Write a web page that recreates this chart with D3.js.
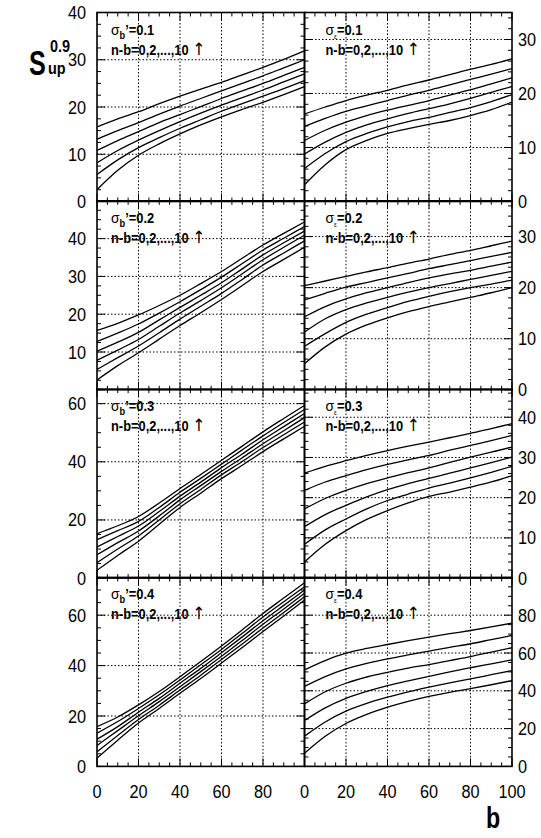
<!DOCTYPE html>
<html>
<head>
<meta charset="utf-8">
<script src="https://cdnjs.cloudflare.com/ajax/libs/d3/7.8.5/d3.min.js"></script>
<style>
    body { margin: 0; background: #fff; }
    svg { display: block; }
    text { font-family: "Liberation Sans", Arial, Helvetica, sans-serif; fill: #000; }
</style>
</head>
<body>
<div id="chart"></div>
<script>
'use strict';
// b values at which the curves were read
var bValues = [0, 10, 20, 30, 40, 50, 60, 70, 80, 90, 100];
var xTickLabels = [0, 20, 40, 60, 80, 100];

// left column, sigma_b' = 0.1 .. 0.4 ; curves n-b = 10,8,6,4,2,0 (top to bottom)
var sb01 = [
    [15.8, 17.5, 19.0, 20.7, 22.3, 23.8, 25.2, 26.8, 28.4, 30.1, 31.9],
    [13.2, 15.0, 16.7, 18.5, 20.2, 21.8, 23.4, 25.0, 26.6, 28.3, 30.0],
    [10.8, 12.9, 14.8, 16.7, 18.4, 20.1, 21.8, 23.4, 25.0, 26.7, 28.4],
    [8.2, 10.8, 13.0, 15.0, 16.9, 18.7, 20.4, 22.0, 23.6, 25.3, 27.0],
    [5.7, 8.8, 11.4, 13.5, 15.5, 17.3, 19.1, 20.7, 22.3, 23.9, 25.6],
    [2.5, 6.6, 9.8, 12.2, 14.3, 16.2, 17.9, 19.5, 21.0, 22.6, 24.3]
];
var sb02 = [
    [15.7, 17.6, 19.8, 22.3, 25.0, 28.1, 31.3, 34.8, 38.3, 41.4, 44.4],
    [12.8, 15.0, 17.4, 20.3, 23.3, 26.5, 29.8, 33.4, 37.0, 40.1, 43.2],
    [10.2, 12.6, 15.2, 18.5, 21.8, 25.0, 28.3, 32.0, 35.7, 38.9, 42.0],
    [7.8, 10.5, 13.3, 16.8, 20.3, 23.6, 27.0, 30.7, 34.4, 37.7, 40.9],
    [5.4, 8.5, 11.6, 15.1, 18.7, 22.1, 25.5, 29.2, 33.0, 36.2, 39.4],
    [2.6, 6.4, 9.8, 13.4, 17.0, 20.4, 23.9, 27.6, 31.3, 34.5, 37.7]
];
var sb03 = [
    [15.3, 18.0, 21.2, 25.8, 30.8, 35.6, 40.5, 45.4, 50.3, 54.9, 59.4],
    [13.2, 16.3, 19.5, 24.3, 29.5, 34.3, 39.2, 44.1, 48.9, 53.5, 58.0],
    [10.7, 14.3, 17.9, 22.9, 28.2, 33.0, 38.0, 42.7, 47.6, 52.1, 56.6],
    [8.0, 12.2, 16.2, 21.4, 26.9, 31.8, 36.7, 41.4, 46.2, 50.7, 55.2],
    [5.3, 10.0, 14.5, 20.0, 25.6, 30.5, 35.5, 40.1, 44.9, 49.3, 53.7],
    [2.7, 7.8, 12.7, 18.5, 24.3, 29.2, 34.2, 38.8, 43.5, 47.9, 52.2]
];
var sb04 = [
    [15.8, 19.6, 24.4, 29.7, 35.6, 41.6, 47.8, 54.2, 60.7, 66.8, 72.9],
    [13.2, 17.8, 23.0, 28.4, 34.3, 40.3, 46.4, 52.8, 59.3, 65.3, 71.3],
    [10.8, 15.8, 21.5, 27.0, 33.0, 38.9, 45.1, 51.4, 57.8, 63.9, 70.0],
    [8.3, 14.2, 20.1, 25.7, 31.6, 37.6, 43.7, 50.0, 56.4, 62.5, 68.7],
    [5.8, 12.3, 18.6, 24.3, 30.3, 36.2, 42.4, 48.6, 54.9, 61.1, 67.3],
    [3.3, 10.4, 17.2, 23.0, 29.0, 34.9, 41.0, 47.2, 53.5, 59.7, 66.0]
];

// right column, sigma_epsilon = 0.1 .. 0.4
var se01 = [
    [16.2, 17.5, 18.7, 19.7, 20.6, 21.6, 22.5, 23.5, 24.5, 25.4, 26.4],
    [13.9, 15.4, 16.7, 17.7, 18.7, 19.7, 20.6, 21.6, 22.6, 23.6, 24.6],
    [11.3, 13.2, 14.7, 15.9, 16.9, 17.8, 18.7, 19.7, 20.7, 21.8, 22.9],
    [8.8, 11.0, 12.8, 14.2, 15.3, 16.3, 17.2, 18.1, 19.1, 20.2, 21.3],
    [6.1, 8.9, 11.1, 12.6, 13.8, 14.8, 15.6, 16.5, 17.4, 18.5, 19.8],
    [3.1, 6.8, 9.6, 11.3, 12.6, 13.5, 14.3, 15.0, 15.9, 17.0, 18.4]
];
var se02 = [
    [20.4, 21.3, 22.2, 23.1, 23.9, 24.8, 25.6, 26.5, 27.3, 28.2, 29.1],
    [17.6, 18.9, 20.1, 21.0, 21.9, 22.8, 23.7, 24.5, 25.3, 26.1, 26.9],
    [14.3, 16.3, 17.8, 19.0, 20.0, 21.0, 21.9, 22.7, 23.4, 24.2, 25.0],
    [11.3, 13.9, 15.7, 17.0, 18.1, 19.1, 20.0, 20.8, 21.6, 22.4, 23.2],
    [8.5, 11.0, 13.2, 14.8, 16.1, 17.3, 18.3, 19.2, 20.0, 20.7, 21.5],
    [5.1, 8.4, 10.9, 12.7, 14.1, 15.3, 16.3, 17.2, 18.1, 19.0, 20.0]
];
var se03 = [
    [26.1, 27.8, 29.2, 30.5, 31.7, 32.8, 33.8, 34.9, 36.0, 37.2, 38.4],
    [21.8, 23.9, 25.5, 27.0, 28.3, 29.4, 30.5, 31.8, 33.0, 34.2, 35.5],
    [17.2, 19.8, 21.8, 23.5, 24.9, 26.2, 27.4, 28.8, 30.1, 31.3, 32.6],
    [12.8, 15.8, 18.1, 20.2, 22.0, 23.5, 24.8, 26.1, 27.4, 28.7, 30.1],
    [8.4, 12.0, 14.7, 17.2, 19.3, 20.9, 22.4, 23.6, 24.9, 26.3, 27.8],
    [4.0, 8.4, 11.8, 14.6, 16.8, 18.7, 20.3, 21.4, 22.6, 23.9, 25.5]
];
var se04 = [
    [51.1, 56.0, 59.9, 62.4, 64.5, 66.5, 68.4, 70.2, 71.9, 73.8, 75.8],
    [42.3, 47.5, 51.6, 54.5, 56.9, 59.0, 61.0, 63.0, 64.9, 67.1, 69.3],
    [33.1, 39.5, 44.0, 47.3, 49.8, 52.0, 53.9, 56.0, 58.1, 60.5, 62.8],
    [24.3, 31.0, 36.0, 39.7, 42.8, 45.3, 47.6, 50.0, 52.2, 54.3, 56.4],
    [16.0, 23.5, 29.2, 33.3, 36.6, 39.4, 41.9, 44.2, 46.3, 48.5, 50.7],
    [7.0, 16.0, 22.7, 27.5, 31.3, 34.4, 37.0, 39.2, 41.1, 43.2, 45.4]
];

var sigmaValues = ['0.1', '0.2', '0.3', '0.4'];
var leftYMax = [40, 50, 65, 75];
var rightYMax = [35, 37, 47, 100];
var leftYLabels = [[0, 10, 20, 30, 40], [10, 20, 30, 40], [0, 20, 40, 60], [0, 20, 40, 60]];
var rightYLabels = [[0, 10, 20, 30], [0, 10, 20, 30], [0, 10, 20, 30, 40], [0, 20, 40, 60, 80]];

var leftData = [sb01, sb02, sb03, sb04];
var rightData = [se01, se02, se03, se04];

var width = 541,
    height = 838,
    panelW = 207.5,
    panelH = 189,
    panelX0 = 97,
    panelY0 = 12.5,
    rowStep = 188.3;

var svg = d3.select('#chart').append('svg')
    .attr('width', width)
    .attr('height', height);

// text with a horizontal squeeze, like the narrow lettering of the original
function txt(sel, x, y, size, sx) {
    return sel.append('text')
        .attr('transform', 'translate(' + x + ',' + y + ') scale(' + sx + ',1)')
        .style('font-size', size + 'px');
}

var bScale = d3.scaleLinear().domain([0, 100]);

function drawPanel(col, row) {
    var x0 = panelX0 + col * panelW,
        y0 = panelY0 + row * rowStep;
    var yMax = col === 0 ? leftYMax[row] : rightYMax[row];
    var major = yMax > 60 ? 20 : 10;
    if (col === 0 && row >= 2) major = 20;
    var minor = major === 20 ? 5 : (col === 0 ? 2.5 : 2);

    var x = bScale.copy().range([x0, x0 + panelW]);
    var y = d3.scaleLinear().domain([0, yMax]).range([y0 + panelH, y0]);

    var g = svg.append('g');
    var clipId = 'clip' + col + row;
    g.append('clipPath').attr('id', clipId)
        .append('rect')
        .attr('x', x0).attr('y', y0)
        .attr('width', panelW).attr('height', panelH);

    // grid
    var gx = d3.range(20, 100, 20);
    var gy = d3.range(major, yMax, major);
    g.selectAll('.gx').data(gx).enter().append('line')
        .attr('x1', x).attr('x2', x)
        .attr('y1', y0).attr('y2', y0 + panelH)
        .style('stroke', '#000').style('stroke-width', 1)
        .style('stroke-dasharray', '1.5,2');
    g.selectAll('.gy').data(gy).enter().append('line')
        .attr('x1', x0).attr('x2', x0 + panelW)
        .attr('y1', y).attr('y2', y)
        .style('stroke', '#000').style('stroke-width', 1)
        .style('stroke-dasharray', '1.5,2');

    // curves
    var line = d3.line()
        .x(function (d, i) { return x(bValues[i]); })
        .y(function (d) { return y(d); })
        .curve(d3.curveMonotoneX);
    var series = col === 0 ? leftData[row] : rightData[row];
    g.append('g').attr('clip-path', 'url(#' + clipId + ')')
        .selectAll('path').data(series).enter().append('path')
        .attr('d', line)
        .style('fill', 'none')
        .style('stroke', '#000')
        .style('stroke-width', 1.3);

    // ticks on all four sides
    var ticks = g.append('g').style('stroke', '#000').style('stroke-width', 1);
    d3.range(0, 100.01, 5).forEach(function (v) {
        var len = v % 20 === 0 ? 8 : 4;
        ticks.append('line').attr('x1', x(v)).attr('x2', x(v))
            .attr('y1', y0 + panelH).attr('y2', y0 + panelH - len);
        ticks.append('line').attr('x1', x(v)).attr('x2', x(v))
            .attr('y1', y0).attr('y2', y0 + len);
    });
    d3.range(0, yMax + 0.01, minor).forEach(function (v) {
        var len = Math.abs(v % major) < 0.01 ? 8 : 4;
        ticks.append('line').attr('x1', x0).attr('x2', x0 + len)
            .attr('y1', y(v)).attr('y2', y(v));
        ticks.append('line').attr('x1', x0 + panelW).attr('x2', x0 + panelW - len)
            .attr('y1', y(v)).attr('y2', y(v));
    });

    // frame
    g.append('rect')
        .attr('x', x0).attr('y', y0)
        .attr('width', panelW).attr('height', panelH)
        .style('fill', 'none').style('stroke', '#000').style('stroke-width', 1.6);

    // y tick labels
    if (col === 0) {
        leftYLabels[row].forEach(function (v) {
            txt(svg, x0 - 11, y(v) + 6.5, 18.5, 0.88)
                .style('text-anchor', 'end').text(v);
        });
    } else {
        rightYLabels[row].forEach(function (v) {
            txt(svg, x0 + panelW + 6, y(v) + 6.5, 18.5, 0.88)
                .style('text-anchor', 'start').text(v);
        });
    }

    // x tick labels on the bottom row
    if (row === 3) {
        var labs = col === 0 ? xTickLabels.slice(0, 5) : xTickLabels;
        labs.forEach(function (v) {
            txt(svg, x(v), y0 + panelH + 32, 18.5, 0.88)
                .style('text-anchor', 'middle').text(v);
        });
    }

    // panel caption
    var cx = x0 + (col === 0 ? 14 : 21);
    var t1 = txt(svg, cx, y0 + 22, 14, 0.92).style('font-weight', 'bold');
    t1.append('tspan').style('font-weight', 'normal').style('font-size', '15px').text('\u03c3');
    if (col === 0) {
        t1.append('tspan').attr('dy', 4).style('font-size', '10px').text('b');
        t1.append('tspan').attr('dy', -4).text('\u2019=' + sigmaValues[row]);
    } else {
        t1.append('tspan').attr('dy', 4).style('font-size', '7px').style('font-weight', 'normal').text('\u03b5');
        t1.append('tspan').attr('dy', -4).text('=' + sigmaValues[row]);
    }
    var t2 = txt(svg, cx, y0 + 42, 14, 0.92).style('font-weight', 'bold');
    t2.append('tspan').text('n-b=0,2,...,10 ');
    t2.append('tspan')
        .style('font-family', '"DejaVu Sans", sans-serif')
        .style('font-weight', 'normal')
        .style('font-size', '17px')
        .style('fill', '#000')
        .text('\u2191');
}

for (var r = 0; r < 4; r++) {
    drawPanel(0, r);
    drawPanel(1, r);
}

// axis titles
txt(svg, 29, 75, 35, 0.72).style('font-weight', 'bold').text('S');
txt(svg, 50, 52, 17, 0.85).style('font-weight', 'bold').text('0.9');
txt(svg, 48, 74, 17, 0.85).style('font-weight', 'bold').text('up');
txt(svg, 493, 828, 29, 0.8).style('font-weight', 'bold').style('text-anchor', 'middle').text('b');
</script>
</body>
</html>
